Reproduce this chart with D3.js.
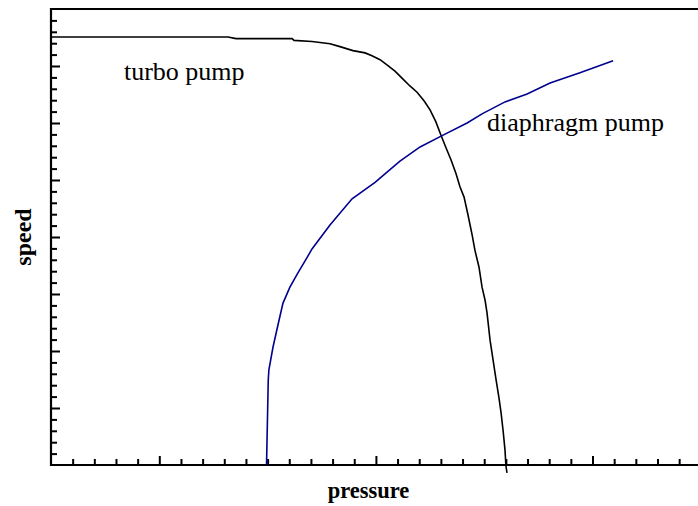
<!DOCTYPE html>
<html>
<head>
<meta charset="utf-8">
<script src="https://cdn.jsdelivr.net/npm/d3@7"></script>
<style>
html,body{margin:0;padding:0;background:#fff;}
svg{display:block;}
text{font-family:"Liberation Serif","DejaVu Serif","Times New Roman",serif;}
</style>
</head>
<body>
<svg id="chart" width="698" height="506"></svg>
<script>
// ---- data ----
const turboX = [0,8.17,8.54,11.13,11.22,12.05,12.88,13.34,13.94,14.5,14.82,15.19,15.51,15.88,16.25,16.57,16.9,17.22,17.5,17.77,18.0,18.24,18.47,18.7,18.88,19.07,19.25,19.44,19.57,19.76,19.9,20.04,20.13,20.27,20.41,20.55,20.68,20.78,20.87,20.96,21.0,21.05];
const turboY = [7.51,7.51,7.48,7.48,7.45,7.43,7.39,7.34,7.27,7.23,7.18,7.11,7.02,6.91,6.77,6.65,6.54,6.39,6.23,6.02,5.79,5.56,5.35,5.11,4.88,4.7,4.39,4.04,3.77,3.47,3.12,2.89,2.67,2.19,1.84,1.49,1.18,0.91,0.61,0.26,0,-0.14];
const diaX = [9.95,10.03,10.06,10.25,10.48,10.71,11.03,11.4,11.73,12.05,12.88,13.9,14.96,16.11,17.04,18.01,19.21,19.9,20.96,21.98,23.04,24.42,25.95];
const diaY = [0,1.49,1.67,2.07,2.46,2.84,3.12,3.37,3.58,3.79,4.21,4.67,4.96,5.33,5.58,5.77,6.0,6.16,6.37,6.51,6.7,6.88,7.09];
const seriesNames = ["turbo pump","diaphragm pump"];
const xMajorTicks = [5,15,25];
const xMinorTicks = [1,2,3,4,6,7,8,9,10,11,12,13,14,16,17,18,19,20,21,22,23,24,26,27,28,29];
const yMajorTicks = [1,2,3,4,5,6,7];
const yMinorTicks = [];
for (let i = 1; i < 40; i++) { if (i % 5 !== 0) yMinorTicks.push(+(i*0.2).toFixed(1)); }
const xTitle = "pressure";
const yTitle = "speed";

// ---- layout ----
const svg = d3.select("#chart");
const L = 51, R = 698, T = 9, B = 465;
const x = d3.scaleLinear().domain([0, 29.87]).range([L, R]);
const y = d3.scaleLinear().domain([0, 8]).range([B, T]);

function tickAxis(gen, size, vals, tr) {
  const g = svg.append("g").attr("transform", tr)
    .call(gen.tickValues(vals).tickSize(size).tickFormat(""));
  g.select(".domain").remove();
  g.selectAll(".tick line").attr("stroke", "#000").attr("stroke-width", 2);
}
tickAxis(d3.axisBottom(x), -6, xMinorTicks, `translate(0,${B})`);
tickAxis(d3.axisBottom(x), -9, xMajorTicks, `translate(0,${B})`);
tickAxis(d3.axisLeft(y), -6, yMinorTicks, `translate(${L},0)`);
tickAxis(d3.axisLeft(y), -9, yMajorTicks, `translate(${L},0)`);

svg.append("path").attr("d", `M${R},${T}H${L}V${B}H${R}`)
  .attr("fill", "none").attr("stroke", "#000").attr("stroke-width", 2.2);

const line = d3.line().x(d => x(d[0])).y(d => y(d[1]));
const turbo = turboX.map((v, i) => [v, turboY[i]]);
const dia = diaX.map((v, i) => [v, diaY[i]]);
svg.append("path").datum(turbo).attr("d", line)
  .attr("fill", "none").attr("stroke", "#000").attr("stroke-width", 1.6);
svg.append("path").datum(dia).attr("d", line)
  .attr("fill", "none").attr("stroke", "#00008f").attr("stroke-width", 1.6);

svg.append("text").attr("x", x(3.37)).attr("y", y(6.75))
  .attr("font-size", 26).text(seriesNames[0]);
svg.append("text").attr("x", x(20.13)).attr("y", y(5.86))
  .attr("font-size", 26).text(seriesNames[1]);

svg.append("text").attr("x", (L + 686) / 2).attr("y", 498)
  .attr("text-anchor", "middle").attr("font-weight", "bold")
  .attr("font-size", 22.5).text(xTitle);
svg.append("text").attr("transform", `translate(31,${(T + B) / 2}) rotate(-90)`)
  .attr("text-anchor", "middle").attr("font-weight", "bold")
  .attr("font-size", 24).text(yTitle);
</script>
</body>
</html>
